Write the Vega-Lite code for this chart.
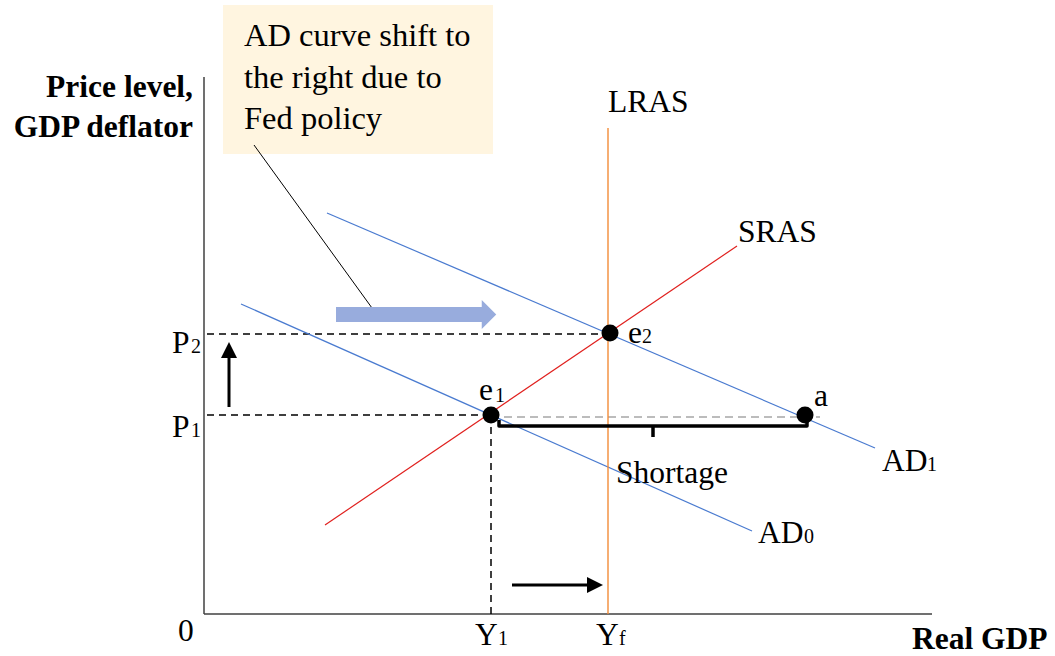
{
  "$schema": "https://vega.github.io/schema/vega-lite/v6.json",
  "width": 1055,
  "height": 656,
  "padding": 0,
  "autosize": {"type": "fit", "contains": "padding"},
  "background": "white",
  "config": {"view": {"stroke": null}},
  "datasets": {
    "segs": [
      {"name": "yaxis", "x": 0, "y": 0, "x2": 0, "y2": 537},
      {"name": "xaxis", "x": 0, "y": 0, "x2": 728, "y2": 0},
      {"name": "LRAS", "x": 404, "y": 0, "x2": 404, "y2": 486},
      {"name": "SRAS", "x": 121, "y": 89, "x2": 533, "y2": 368},
      {"name": "AD0", "x": 37, "y": 310, "x2": 548, "y2": 83},
      {"name": "AD1", "x": 123, "y": 401, "x2": 671, "y2": 166},
      {"name": "P2 guide", "x": 3, "y": 280, "x2": 406, "y2": 280},
      {"name": "P1 guide", "x": 3, "y": 199, "x2": 287, "y2": 199},
      {"name": "Y1 guide", "x": 287, "y": 0, "x2": 287, "y2": 199},
      {"name": "shortage level", "x": 287, "y": 197, "x2": 616, "y2": 197},
      {"name": "callout", "x": 50, "y": 469, "x2": 168, "y2": 306},
      {"name": "price arrow", "x": 25, "y": 207, "x2": 25, "y2": 262},
      {"name": "output arrow", "x": 308, "y": 29, "x2": 388, "y2": 29},
      {"name": "bracket tick", "x": 449, "y": 188, "x2": 449, "y2": 177}
    ],
    "bracket": [
      {"x": 295, "y": 194, "o": 1},
      {"x": 295, "y": 188, "o": 2},
      {"x": 603, "y": 188, "o": 3},
      {"x": 603, "y": 194, "o": 4}
    ],
    "rects": [
      {"name": "note", "x": 19, "x2": 289, "y": 460, "y2": 609},
      {"name": "shift body", "x": 132, "x2": 279, "y": 292, "y2": 307}
    ],
    "heads": [
      {"name": "price head", "x": 25, "y": 264},
      {"name": "output head", "x": 391, "y": 29},
      {"name": "shift head", "x": 285, "y": 299.5}
    ],
    "points": [
      {"name": "e1", "x": 287, "y": 199},
      {"name": "e2", "x": 406, "y": 281},
      {"name": "a", "x": 601, "y": 199}
    ],
    "labels": [
      {"kind": "main", "text": "LRAS", "x": 404, "y": 502},
      {"kind": "main", "text": "SRAS", "x": 534, "y": 372},
      {"kind": "main", "text": "e", "x": 275, "y": 214},
      {"kind": "sub", "text": "1", "x": 291, "y": 212},
      {"kind": "main", "text": "e", "x": 424, "y": 271},
      {"kind": "sub", "text": "2", "x": 438, "y": 271},
      {"kind": "main", "text": "a", "x": 610, "y": 208},
      {"kind": "main", "text": "Shortage", "x": 412, "y": 131},
      {"kind": "main", "text": "AD", "x": 554, "y": 71},
      {"kind": "sub", "text": "0", "x": 600, "y": 71},
      {"kind": "main", "text": "AD", "x": 678, "y": 143},
      {"kind": "sub", "text": "1", "x": 723, "y": 143},
      {"kind": "main", "text": "P", "x": -32, "y": 261},
      {"kind": "sub", "text": "2", "x": -13, "y": 261},
      {"kind": "main", "text": "P", "x": -32, "y": 177},
      {"kind": "sub", "text": "1", "x": -13, "y": 177},
      {"kind": "main", "text": "0", "x": -26, "y": -27},
      {"kind": "main", "text": "Y", "x": 271, "y": -31},
      {"kind": "sub", "text": "1", "x": 294, "y": -31},
      {"kind": "main", "text": "Y", "x": 392, "y": -31},
      {"kind": "sub", "text": "f", "x": 415, "y": -31},
      {"kind": "box", "text": "AD curve shift to", "x": 40, "y": 568},
      {"kind": "box", "text": "the right due to", "x": 40, "y": 526},
      {"kind": "box", "text": "Fed policy", "x": 40, "y": 485},
      {"kind": "titleR", "text": "Price level,", "x": -11, "y": 517},
      {"kind": "titleR", "text": "GDP deflator", "x": -11, "y": 477},
      {"kind": "titleL", "text": "Real GDP", "x": 708, "y": -35}
    ]
  },
  "encoding": {
    "x": {"field": "x", "type": "quantitative", "scale": {"domain": [-204, 851], "nice": false, "zero": false}, "axis": null},
    "y": {"field": "y", "type": "quantitative", "scale": {"domain": [-42, 614], "nice": false, "zero": false}, "axis": null}
  },
  "layer": [
    {
      "data": {"name": "rects"},
      "transform": [{"filter": "datum.name === 'note'"}],
      "mark": {"type": "rect", "color": "#FFF5E0"},
      "encoding": {"x2": {"field": "x2"}, "y2": {"field": "y2"}}
    },
    {
      "data": {"name": "segs"},
      "transform": [{"filter": "datum.name === 'yaxis' || datum.name === 'xaxis'"}],
      "mark": {"type": "rule", "color": "#404040", "strokeWidth": 1.5},
      "encoding": {"x2": {"field": "x2"}, "y2": {"field": "y2"}}
    },
    {
      "data": {"name": "segs"},
      "transform": [{"filter": "datum.name === 'P2 guide' || datum.name === 'P1 guide' || datum.name === 'Y1 guide'"}],
      "mark": {"type": "rule", "color": "black", "strokeWidth": 1.5, "strokeDash": [7, 5]},
      "encoding": {"x2": {"field": "x2"}, "y2": {"field": "y2"}}
    },
    {
      "data": {"name": "segs"},
      "transform": [{"filter": "datum.name === 'shortage level'"}],
      "mark": {"type": "rule", "color": "#A6A6A6", "strokeWidth": 1.5, "strokeDash": [8, 5]},
      "encoding": {"x2": {"field": "x2"}, "y2": {"field": "y2"}}
    },
    {
      "data": {"name": "segs"},
      "transform": [{"filter": "datum.name === 'AD0' || datum.name === 'AD1'"}],
      "mark": {"type": "rule", "color": "#4A7BD0", "strokeWidth": 1.2},
      "encoding": {"x2": {"field": "x2"}, "y2": {"field": "y2"}}
    },
    {
      "data": {"name": "segs"},
      "transform": [{"filter": "datum.name === 'SRAS'"}],
      "mark": {"type": "rule", "color": "#E0201E", "strokeWidth": 1.2},
      "encoding": {"x2": {"field": "x2"}, "y2": {"field": "y2"}}
    },
    {
      "data": {"name": "segs"},
      "transform": [{"filter": "datum.name === 'LRAS'"}],
      "mark": {"type": "rule", "color": "#F28C38", "strokeWidth": 1.4},
      "encoding": {"x2": {"field": "x2"}, "y2": {"field": "y2"}}
    },
    {
      "data": {"name": "segs"},
      "transform": [{"filter": "datum.name === 'callout'"}],
      "mark": {"type": "rule", "color": "black", "strokeWidth": 1},
      "encoding": {"x2": {"field": "x2"}, "y2": {"field": "y2"}}
    },
    {
      "data": {"name": "segs"},
      "transform": [{"filter": "datum.name === 'price arrow' || datum.name === 'output arrow'"}],
      "mark": {"type": "rule", "color": "black", "strokeWidth": 3},
      "encoding": {"x2": {"field": "x2"}, "y2": {"field": "y2"}}
    },
    {
      "data": {"name": "segs"},
      "transform": [{"filter": "datum.name === 'bracket tick'"}],
      "mark": {"type": "rule", "color": "black", "strokeWidth": 3.5},
      "encoding": {"x2": {"field": "x2"}, "y2": {"field": "y2"}}
    },
    {
      "data": {"name": "bracket"},
      "mark": {"type": "line", "color": "black", "strokeWidth": 3.5, "strokeJoin": "round"},
      "encoding": {"order": {"field": "o", "type": "quantitative"}}
    },
    {
      "data": {"name": "rects"},
      "transform": [{"filter": "datum.name === 'shift body'"}],
      "mark": {"type": "rect", "color": "#98ACDD"},
      "encoding": {"x2": {"field": "x2"}, "y2": {"field": "y2"}}
    },
    {
      "data": {"name": "heads"},
      "transform": [{"filter": "datum.name === 'shift head'"}],
      "mark": {"type": "point", "filled": true, "color": "#98ACDD", "opacity": 1, "size": 841, "shape": "M-0.5,-1L0.5,0L-0.5,1Z"}
    },
    {
      "data": {"name": "heads"},
      "transform": [{"filter": "datum.name === 'output head'"}],
      "mark": {"type": "point", "filled": true, "color": "black", "opacity": 1, "size": 256, "shape": "M-1,-1L1,0L-1,1Z"}
    },
    {
      "data": {"name": "heads"},
      "transform": [{"filter": "datum.name === 'price head'"}],
      "mark": {"type": "point", "filled": true, "color": "black", "opacity": 1, "size": 256, "shape": "M0,-1L1,1L-1,1Z"}
    },
    {
      "data": {"name": "points"},
      "mark": {"type": "point", "shape": "circle", "filled": true, "color": "black", "opacity": 1, "size": 290}
    },
    {
      "data": {"name": "labels"},
      "transform": [{"filter": "datum.kind === 'main'"}],
      "mark": {"type": "text", "font": "Liberation Serif", "fontSize": 31.5, "align": "left", "baseline": "alphabetic", "color": "black"},
      "encoding": {"text": {"field": "text"}}
    },
    {
      "data": {"name": "labels"},
      "transform": [{"filter": "datum.kind === 'box'"}],
      "mark": {"type": "text", "font": "Liberation Serif", "fontSize": 32.5, "align": "left", "baseline": "alphabetic", "color": "black"},
      "encoding": {"text": {"field": "text"}}
    },
    {
      "data": {"name": "labels"},
      "transform": [{"filter": "datum.kind === 'sub'"}],
      "mark": {"type": "text", "font": "Liberation Serif", "fontSize": 20, "align": "left", "baseline": "alphabetic", "color": "black"},
      "encoding": {"text": {"field": "text"}}
    },
    {
      "data": {"name": "labels"},
      "transform": [{"filter": "datum.kind === 'titleR'"}],
      "mark": {"type": "text", "font": "Liberation Serif", "fontWeight": "bold", "fontSize": 31.5, "align": "right", "baseline": "alphabetic", "color": "black"},
      "encoding": {"text": {"field": "text"}}
    },
    {
      "data": {"name": "labels"},
      "transform": [{"filter": "datum.kind === 'titleL'"}],
      "mark": {"type": "text", "font": "Liberation Serif", "fontWeight": "bold", "fontSize": 31.5, "align": "left", "baseline": "alphabetic", "color": "black"},
      "encoding": {"text": {"field": "text"}}
    }
  ]
}
